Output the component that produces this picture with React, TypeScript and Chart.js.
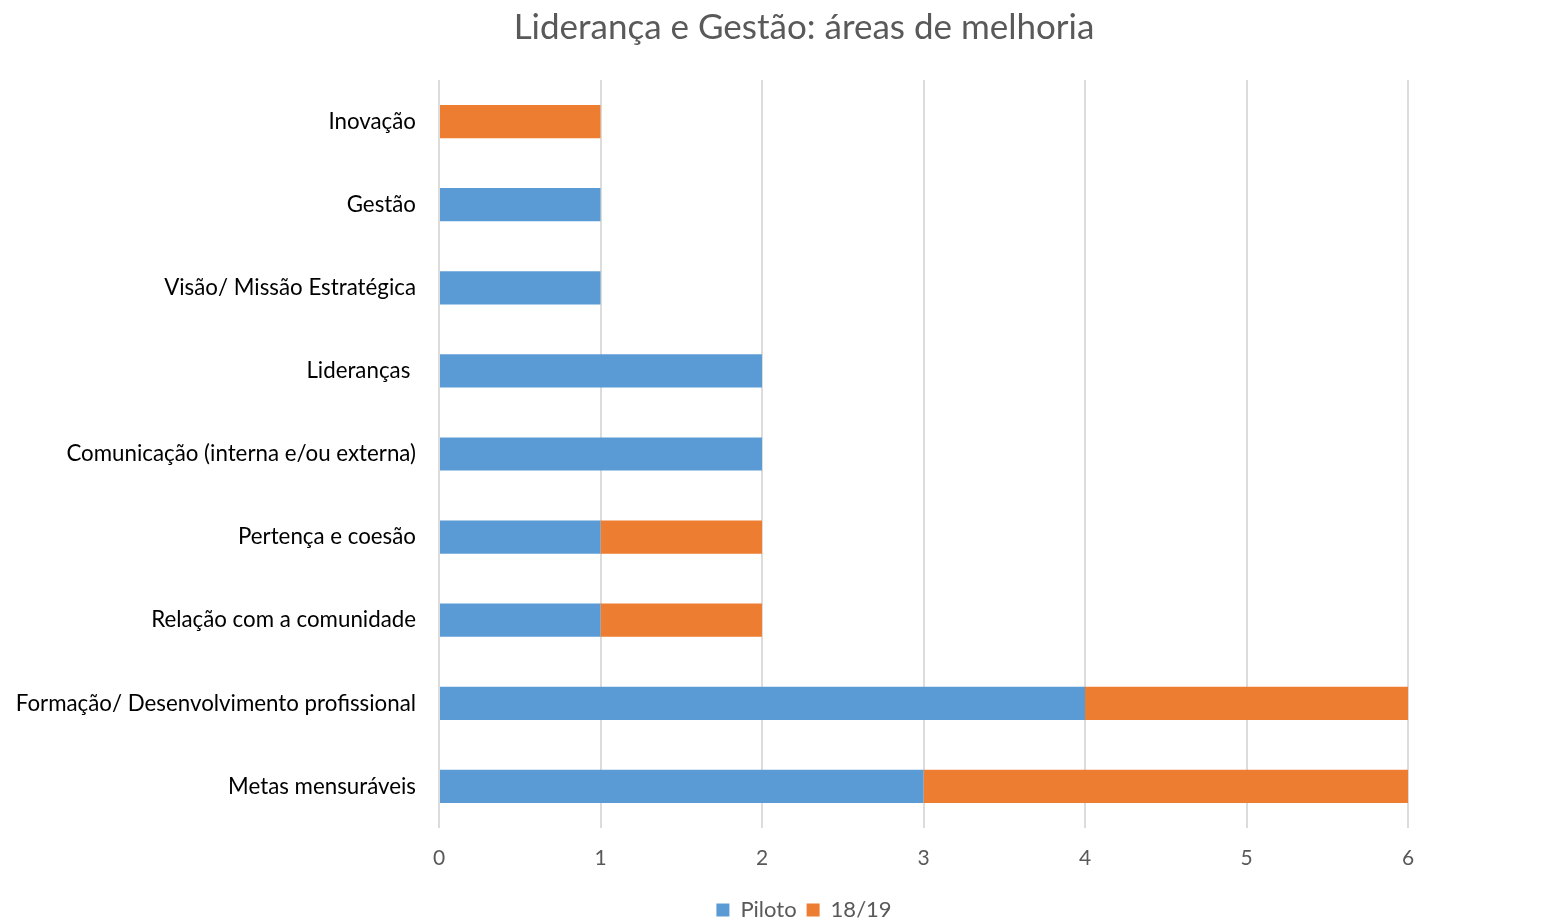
import React, { useEffect, useRef } from "react";
import { Chart, registerables } from "chart.js";

Chart.register(...registerables);

const categories = [
  "Inovação",
  "Gestão",
  "Visão/ Missão Estratégica",
  "Lideranças ",
  "Comunicação (interna e/ou externa)",
  "Pertença e coesão",
  "Relação com a comunidade",
  "Formação/ Desenvolvimento profissional",
  "Metas mensuráveis",
];
const piloto = [0, 1, 1, 2, 2, 1, 1, 4, 3];
const ano1819 = [1, 0, 0, 0, 0, 1, 1, 2, 3];
const seriesNames = ["Piloto", "18/19"];
const xTicks = [0, 1, 2, 3, 4, 5, 6];
const titleText = "Liderança e Gestão: áreas de melhoria";

const FONT = "Lato";

const unclipLabels = {
  id: "unclipLabels",
  afterLayout(chart: any) {
    if (chart.scales.y) chart.scales.y.left = 0;
  },
};

export default function App() {
  const ref = useRef<HTMLCanvasElement | null>(null);
  useEffect(() => {
    if (!ref.current) return;
    const chart = new Chart(ref.current, {
      type: "bar",
      data: {
        labels: categories,
        datasets: [
          {
            label: seriesNames[0],
            data: piloto,
            backgroundColor: "#5B9BD5",
            borderWidth: 0,
            barPercentage: 0.4,
            categoryPercentage: 1,
          },
          {
            label: seriesNames[1],
            data: ano1819,
            backgroundColor: "#ED7D31",
            borderWidth: 0,
            barPercentage: 0.4,
            categoryPercentage: 1,
          },
        ],
      },
      plugins: [unclipLabels],
      options: {
        indexAxis: "y",
        animation: false,
        responsive: true,
        maintainAspectRatio: false,
        layout: { padding: { left: 200, right: 159, top: 0, bottom: 0 } },
        plugins: {
          title: {
            display: true,
            text: titleText,
            color: "#595959",
            font: { family: FONT, size: 35, weight: "normal" },
            padding: { top: 7, bottom: 31 },
          },
          legend: {
            position: "bottom",
            labels: {
              color: "#595959",
              font: { family: FONT, size: 22 },
              boxWidth: 13,
              boxHeight: 13,
              padding: 10,
            },
          },
          tooltip: { enabled: false },
        },
        scales: {
          x: {
            stacked: true,
            min: 0,
            max: 6,
            afterBuildTicks: (scale: any) => {
              scale.ticks = xTicks.map((v) => ({ value: v }));
            },
            afterFit: (scale: any) => {
              scale.height = 61;
            },
            grid: { color: "#dcdcdc", lineWidth: 2, drawTicks: false },
            border: { display: false },
            ticks: {
              color: "#595959",
              font: { family: FONT, size: 21 },
              padding: 18,
            },
          },
          y: {
            stacked: true,
            afterFit: (scale: any) => {
              scale.width = 239;
            },
            grid: { display: false, drawTicks: false },
            border: { display: false },
            ticks: {
              color: "#000000",
              font: { family: FONT, size: 22.3 },
              padding: 23,
            },
          },
        },
      },
    });
    return () => chart.destroy();
  }, []);
  return (
    <div
      style={{
        position: "fixed",
        left: 0,
        top: 0,
        width: 1567,
        height: 931,
        background: "#ffffff",
      }}
    >
      <canvas ref={ref} />
    </div>
  );
}
